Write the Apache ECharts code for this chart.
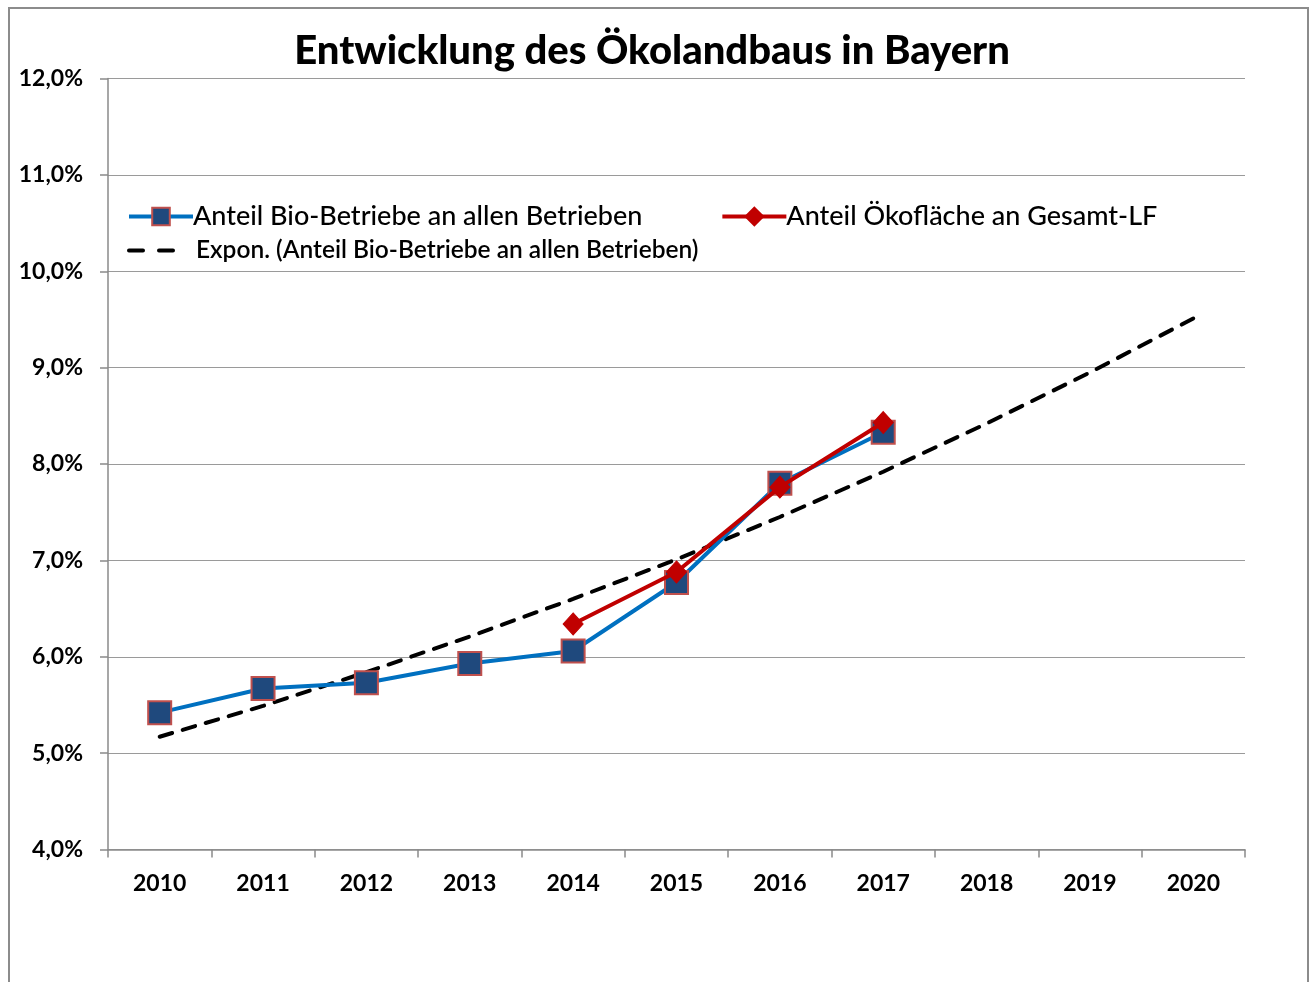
<!DOCTYPE html>
<html><head><meta charset="utf-8">
<script src="https://cdn.jsdelivr.net/npm/echarts@6/dist/echarts.min.js"></script>
<style>html,body{margin:0;padding:0;background:#fff}#c{width:1311px;height:982px}</style>
</head><body><div id="c"></div>
<script>
const years = ['2010','2011','2012','2013','2014','2015','2016','2017','2018','2019','2020'];
const bioBetriebe = [5.42, 5.67, 5.73, 5.93, 6.06, 6.77, 7.80, 8.33, null, null, null];
const oekoflaeche = [null, null, null, null, 6.34, 6.88, 7.76, 8.43, null, null, null];
const trendExpon = [5.17, 5.49, 5.84, 6.21, 6.60, 7.01, 7.45, 7.92, 8.42, 8.95, 9.51];
const nameBio = 'Anteil Bio-Betriebe an allen Betrieben';
const nameOeko = 'Anteil Ökofläche an Gesamt-LF';
const nameTrend = 'Expon. (Anteil Bio-Betriebe an allen Betrieben)';
const FONT = 'Lato, "Open Sans", sans-serif';

const chart = echarts.init(document.getElementById('c'), null, {renderer:'canvas'});
chart.setOption({
  animation:false,
  backgroundColor:'#fff',
  graphic:[{type:'rect', shape:{x:9,y:8,width:1299,height:1000}, style:{fill:'none', stroke:'#8c8c8c', lineWidth:2}, z:-1}],
  title:{text:'Entwicklung des Ökolandbaus in Bayern', left:647, top:26, textAlign:'center',
    textStyle:{fontFamily:FONT, fontWeight:900, fontSize:40, color:'#000'}},
  legend:[
    {data:[nameBio, nameOeko], left:122, top:198, itemWidth:64, itemHeight:22, itemGap:78, orient:'horizontal',
      lineStyle:{width:4},
      textStyle:{fontFamily:FONT, fontSize:27, color:'#000', fontWeight:500, padding:[0,0,0,-5]}},
    {data:[nameTrend], left:122, top:233, itemWidth:58, itemHeight:22,
      lineStyle:{width:4, type:[14,16]}, itemStyle:{opacity:0},
      textStyle:{fontFamily:FONT, fontSize:24.5, color:'#000', fontWeight:600, padding:[0,0,0,4]}}
  ],
  grid:{left:108, right:66, top:78.5, bottom:132.5, containLabel:false},
  xAxis:{type:'category', data:years, boundaryGap:true,
    axisLine:{lineStyle:{color:'#8a8a8a', width:1.5}},
    axisTick:{show:true, length:8, lineStyle:{color:'#8a8a8a', width:1.5}},
    axisLabel:{fontFamily:FONT, fontWeight:'bold', fontSize:23, color:'#000', margin:23}},
  yAxis:{type:'value', min:4, max:12, interval:1,
    axisLine:{show:true, lineStyle:{color:'#8a8a8a', width:1.5}},
    axisTick:{show:true, length:8, lineStyle:{color:'#8a8a8a', width:1.5}},
    splitLine:{lineStyle:{color:'#9a9a9a', width:1.2}},
    axisLabel:{fontFamily:FONT, fontWeight:'bold', fontSize:23, color:'#000', margin:25,
      formatter:v=>v.toFixed(1).replace('.',',')+'%'}},
  series:[
    {name:nameTrend, type:'line', data:trendExpon, symbol:'none', z:1,
      lineStyle:{color:'#000', width:4, type:[13,11], cap:'round'}, itemStyle:{color:'#000'}},
    {name:nameBio, type:'line', data:bioBetriebe, symbol:'rect', symbolSize:23, z:2,
      lineStyle:{color:'#0070C0', width:4}, itemStyle:{color:'#1F497D', borderColor:'#C0504D', borderWidth:2}},
    {name:nameOeko, type:'line', data:oekoflaeche, symbol:'diamond', symbolSize:[20,22], z:3,
      lineStyle:{color:'#C00000', width:4}, itemStyle:{color:'#C00000', borderColor:'#C00000', borderWidth:1}}
  ]
});
</script></body></html>
